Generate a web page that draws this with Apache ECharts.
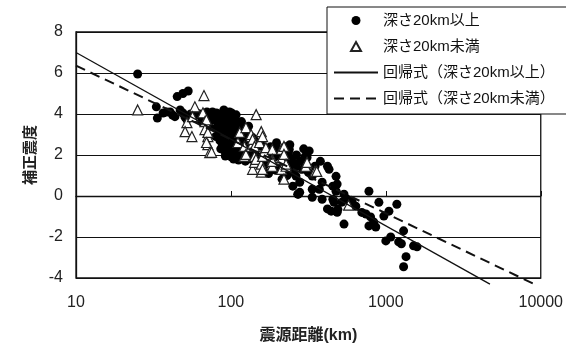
<!DOCTYPE html>
<html>
<head>
<meta charset="utf-8">
<script src="https://cdn.jsdelivr.net/npm/echarts@6/dist/echarts.min.js"></script>
<style>
  html, body { margin: 0; padding: 0; background: #fff; }
  #chart { width: 566px; height: 349px; }
</style>
</head>
<body>
<div id="chart"></div>
<script>
// 深さ20km以上 (filled circles): [distance km, corrected intensity]
const deepPoints = [
  [25, 5.95], [45, 4.85], [49, 5.0], [53, 5.12],
  [33, 4.35], [33.5, 3.8], [36.5, 4.05], [38.5, 4.1], [40.5, 4.1], [42, 3.95], [43.5, 3.87],
  [47, 4.2], [49, 4.05], [50.5, 3.85], [52, 3.72], [55, 4.0], [57, 3.9], [60, 4.05], [61, 3.95],
  [63, 4.0], [64.5, 3.63], [66, 3.6], [70, 4.1], [72, 3.4], [74, 3.8], [80.7, 4.05], [93, 4.1], [108, 3.96],
  [76, 4.1], [78, 3.7], [80, 3.3], [80, 2.9], [82, 4.0], [83, 3.5], [84, 3.1], [85, 2.7], [86, 3.9],
  [87, 3.4], [88, 2.5], [89, 3.0], [90, 4.2], [90, 3.6], [91, 2.2], [92, 3.2], [93, 2.8], [94, 3.9],
  [95, 2.4], [95, 3.5], [96, 2.0], [97, 3.0], [98, 4.1], [98, 2.6], [99, 3.7], [100, 3.3], [100, 2.2],
  [101, 1.9], [101, 4.05], [102, 2.9], [102, 3.9], [103, 3.5], [104, 2.5], [105, 2.1], [105, 3.2],
  [106, 3.8], [107, 2.7], [108, 3.0], [108, 2.3], [110, 3.6], [110, 2.0], [112, 2.6], [112, 3.3],
  [114, 2.9], [114, 3.58], [115, 2.2], [116, 3.5], [117, 1.9], [117, 3.63], [118, 2.5], [120, 3.1],
  [121, 2.0], [123, 2.7], [125, 3.0], [126, 2.2], [128, 2.5], [130, 2.0], [130, 3.4], [132, 2.8],
  [135, 1.8], [135, 2.9], [138, 2.4], [140, 2.3], [145, 2.0], [150, 1.7], [155, 2.6], [159, 2.41],
  [165, 2.1], [170, 1.6], [177, 2.12], [180, 2.4], [190, 1.9], [197, 2.6], [200, 2.3], [205, 1.93],
  [205, 1.45], [210, 2.0], [214, 0.82], [215, 1.6], [225, 2.4], [227, 1.79], [235, 2.1], [238, 2.27],
  [245, 1.8], [251, 1.64], [251, 1.16], [251, 0.48], [255, 1.5], [263, 1.45], [263, 0.97], [265, 2.0],
  [270, 0.09], [272, 0.09], [278, 0.67], [278, 0.18], [280, 1.7], [290, 1.3], [300, 1.9], [309, 2.03],
  [310, 1.88], [316, 1.16], [335, -0.06], [335, 0.97], [335, 0.33], [349, 1.45], [372, 0.33],
  [378, 1.69], [388, -0.16], [388, 0.67], [420, 1.45], [420, -0.63], [430, 1.3], [444, -0.74],
  [455, -0.16], [455, 0.48], [463, -0.31], [477, 0.96], [477, 0.23], [485, 0.58], [485, -0.79],
  [490, -0.65], [520, -0.3], [537, 0.09], [537, -1.37], [562, -0.16], [605, -0.26], [640, -0.5],
  [700, -0.8], [744, -0.88], [778, 0.23], [778, -1.46], [797, -1.02], [834, -1.27], [861, -1.51],
  [902, -0.31], [971, -0.98], [1000, -2.19], [1047, -0.74], [1075, -2.0], [1178, -0.4],
  [1210, -2.24], [1260, -2.33], [1302, -1.7], [1350, -2.96], [1302, -3.45], [1510, -2.43], [1590, -2.48],
  [86, 2.3], [92, 1.95], [104, 1.8], [112, 1.75], [124, 1.7], [140, 2.8], [148, 2.5], [162, 1.4],
  [175, 1.1], [195, 1.25], [230, 1.0], [240, 2.5], [295, 2.3], [320, 2.2]
];

// 深さ20km未満 (open triangles)
const shallowPoints = [
  [25, 4.2], [67, 4.9], [58.5, 4.35], [52, 3.58], [50.6, 3.14], [56, 2.9], [56.5, 3.87],
  [66, 4.06], [68, 3.63], [69.5, 3.72], [68, 3.24], [71, 2.9], [71, 3.1], [71, 2.51], [69.6, 2.61],
  [73, 2.12], [75, 2.13], [111, 2.61], [114, 3.1], [122, 2.42], [122, 1.93], [125, 3.34],
  [125, 2.03], [135, 2.9], [135, 3.0], [135, 2.42], [138, 2.76], [138, 1.3], [142, 1.93],
  [142, 2.42], [142, 1.64], [145.5, 3.97], [145, 1.79], [153, 2.61], [157, 3.14], [157, 1.55],
  [157, 1.16], [160, 2.9], [160, 1.3], [160, 1.93], [164, 2.17], [168, 2.36], [185, 2.27],
  [185, 1.79], [185, 1.45], [185, 1.69], [212, 2.27], [212, 1.79], [212, 1.3], [220, 2.42],
  [220, 2.03], [220, 0.82], [227, 1.45], [227, 1.55], [304, 1.45], [310, 1.64], [349, 1.2],
  [358, 1.2], [575, -0.45]
];

// 回帰式 end points
const fitDeep = [[10, 7.0], [4700, -4.3]];
const fitShallow = [[10, 6.36], [9100, -4.3]];

const seriesNames = ['深さ20km以上', '深さ20km未満', '回帰式（深さ20km以上）', '回帰式（深さ20km未満）'];
const xTicks = [10, 100, 1000, 10000];

const chart = echarts.init(document.getElementById('chart'));
const font = '"Liberation Sans", Arial, "Noto Sans CJK JP", sans-serif';

chart.setOption({
  animation: false,
  textStyle: { fontFamily: font },
  grid: {
    left: 76, right: 23, top: 32, bottom: 70,
    show: true, borderColor: '#111', borderWidth: 1.3
  },
  legend: {
    // symbol hidden on line items, triangle kept in proportion
    data: [
      { name: seriesNames[0], icon: 'circle' },
      { name: seriesNames[1], icon: 'path://M5,0 L10,9 L0,9 Z' },
      { name: seriesNames[2], itemStyle: { opacity: 0 } },
      { name: seriesNames[3], itemStyle: { opacity: 0 } }
    ],
    orient: 'vertical',
    left: 327, top: 7,
    padding: [6, 60, 8, 6],
    itemGap: 11,
    itemWidth: 44, itemHeight: 9,
    backgroundColor: '#fff',
    borderColor: '#111', borderWidth: 1,
    textStyle: { fontSize: 15, color: '#111', fontFamily: font },
    z: 10
  },
  xAxis: {
    type: 'log', logBase: 10, min: 10, max: 10000,
    name: '震源距離(km)', nameLocation: 'middle', nameGap: 50,
    nameTextStyle: { fontSize: 16, fontWeight: 'bold', color: '#222' },
    axisLine: { lineStyle: { color: '#111', width: 1.3 } },
    axisTick: { inside: true, length: 5, lineStyle: { color: '#111' } },
    axisLabel: {
      fontSize: 16, color: '#222', margin: 17,
      formatter: v => (xTicks.indexOf(Math.round(v)) >= 0 ? String(Math.round(v)) : '')
    },
    splitLine: { show: false }
  },
  yAxis: {
    type: 'value', min: -4, max: 8, interval: 2,
    name: '補正震度', nameLocation: 'middle', nameGap: 33, nameRotate: 90,
    nameTextStyle: { fontSize: 15, fontWeight: 'bold', color: '#222' },
    axisLine: { show: true, lineStyle: { color: '#111', width: 1.3 } },
    axisTick: { show: false },
    axisLabel: { fontSize: 16, color: '#222', margin: 13 },
    splitLine: { lineStyle: { color: '#111', width: 1.2 } }
  },
  series: [
    {
      name: seriesNames[0], type: 'scatter', data: deepPoints,
      symbol: 'circle', symbolSize: 9,
      itemStyle: { color: '#000', opacity: 1 }
    },
    {
      name: seriesNames[1], type: 'scatter', data: shallowPoints,
      symbol: 'triangle', symbolSize: 10,
      itemStyle: { color: '#fff', borderColor: '#222', borderWidth: 1.2, opacity: 1 }
    },
    {
      name: seriesNames[2], type: 'line', data: fitDeep, clip: false,
      symbol: 'none', itemStyle: { color: '#111' },
      lineStyle: { color: '#111', width: 1.3, type: 'solid' }
    },
    {
      name: seriesNames[3], type: 'line', data: fitShallow, clip: false,
      symbol: 'none', itemStyle: { color: '#111' },
      lineStyle: { color: '#111', width: 2, type: [10, 6] }
    }
  ]
});
</script>
</body>
</html>
